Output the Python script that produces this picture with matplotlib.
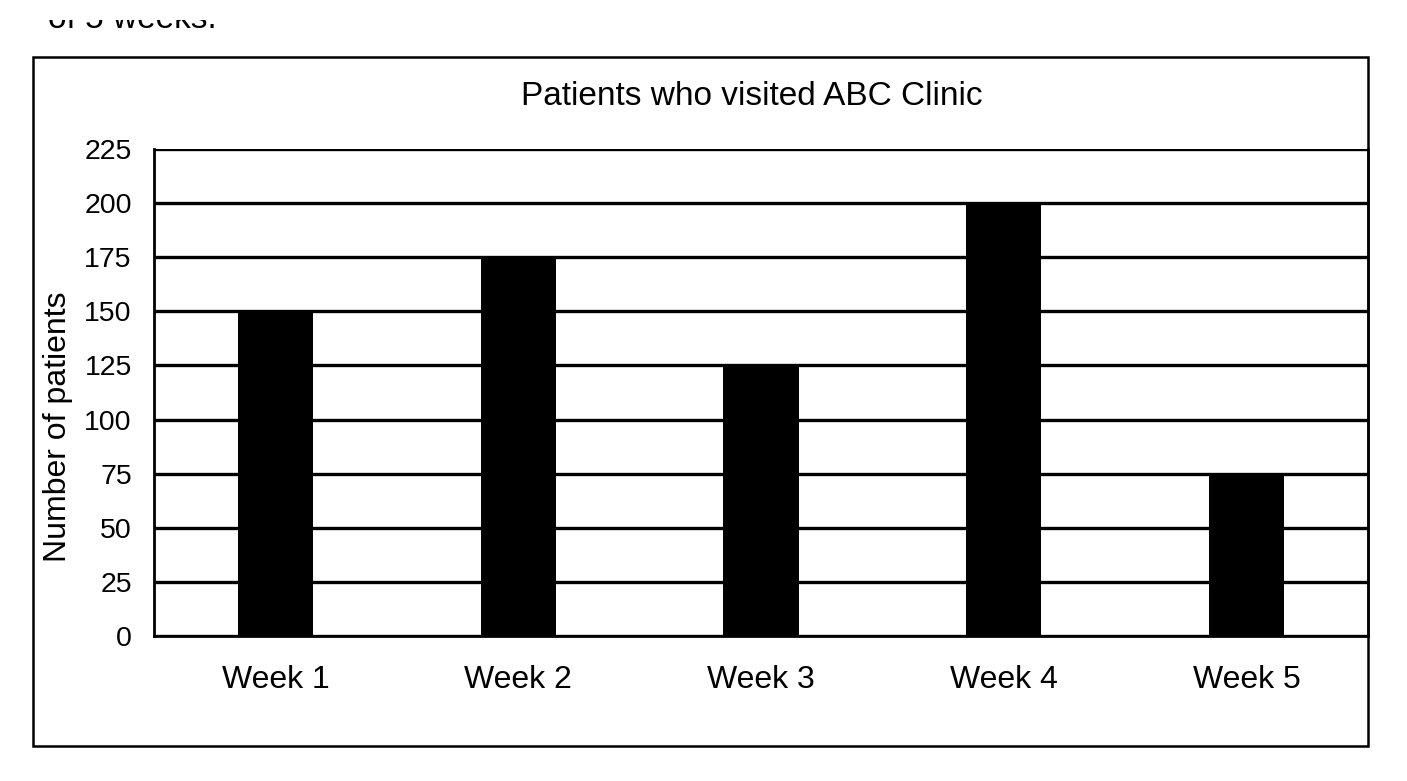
import matplotlib
matplotlib.use("Agg")
import matplotlib.pyplot as plt
from matplotlib.patches import Rectangle

plt.rcParams["font.family"] = ["Liberation Sans", "DejaVu Sans"]

# data
weeks = ["Week 1", "Week 2", "Week 3", "Week 4", "Week 5"]
patients = [150, 175, 125, 200, 75]
y_ticks = [0, 25, 50, 75, 100, 125, 150, 175, 200, 225]

W, H = 1407, 781
fig = plt.figure(figsize=(W / 100, H / 100), dpi=100)
fig.patch.set_facecolor("white")

# plot area (pixel positions converted to figure fractions)
left, right, top, bottom = 154, 1368, 149, 636
ax = fig.add_axes([left / W, 1 - bottom / H, (right - left) / W, (bottom - top) / H])

x = list(range(len(weeks)))
ax.bar(x, patients, width=0.31, color="black", zorder=3)

ax.set_xlim(-0.5, len(weeks) - 0.5)
ax.set_ylim(0, 225)
ax.set_yticks(y_ticks)
ax.set_yticklabels([str(v) for v in y_ticks], fontsize=20.5)
ax.set_xticks(x)
ax.set_xticklabels(weeks, fontsize=23)
ax.tick_params(axis="both", length=0)
ax.tick_params(axis="y", pad=16)
ax.tick_params(axis="x", pad=21)

ax.yaxis.grid(True, color="black", linewidth=2.4, zorder=1)
ax.set_axisbelow(True)
for side in ["left", "bottom"]:
    ax.spines[side].set_linewidth(2.0)
ax.spines["top"].set_visible(False)
ax.spines["right"].set_linewidth(1.8)

ax.set_ylabel("Number of patients", fontsize=23)
ax.yaxis.set_label_coords(-0.067, 0.43)

# title in the outer frame
fig.text(752 / W, 1 - 105 / H, "Patients who visited ABC Clinic",
         fontsize=24, ha="center", va="baseline")

# outer frame around the whole chart
frame = Rectangle((33 / W, 1 - 746 / H), (1368 - 33) / W, (746 - 57) / H,
                  transform=fig.transFigure, fill=False, edgecolor="black",
                  linewidth=1.8)
fig.add_artist(frame)

# text cut off at the top edge of the scan
fig.text(48 / W, 1 - 28 / H, "of 5 weeks.", fontsize=24,
         ha="left", va="baseline", zorder=1)
cover = Rectangle((0, 1 - 20 / H), 1, 20 / H, transform=fig.transFigure,
                  facecolor="white", edgecolor="none", zorder=10)
fig.add_artist(cover)

fig.savefig("out.png", dpi=100, facecolor="white")
